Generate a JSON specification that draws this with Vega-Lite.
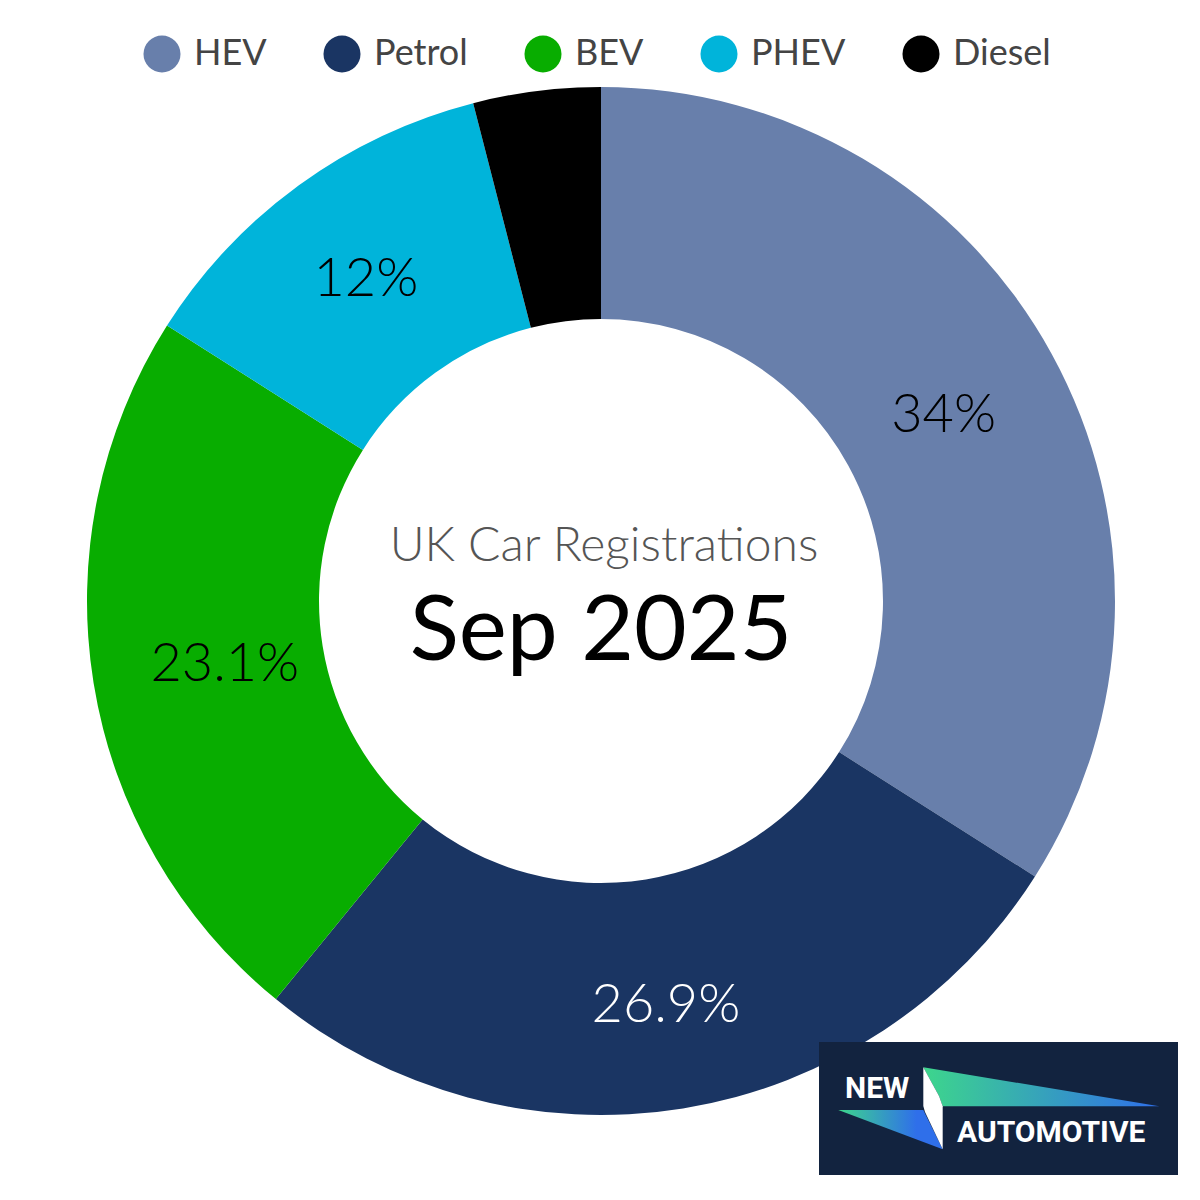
{
"$schema":"https://vega.github.io/schema/vega-lite/v6.json",
"width":1198,"height":1200,
"padding":{"left":2,"top":1,"right":0,"bottom":0},
"autosize":{"type":"none"},
"background":"white",
"view":{"stroke":null},
"datasets":{"shares":[
{"type":"HEV","share":34,"rank":1,"label":"34%"},
{"type":"Petrol","share":26.9,"rank":2,"label":"26.9%"},
{"type":"BEV","share":23.1,"rank":3,"label":"23.1%"},
{"type":"PHEV","share":12,"rank":4,"label":"12%"},
{"type":"Diesel","share":4,"rank":5,"label":""}
]},
"resolve":{"scale":{"color":"independent"}},
"layer":[
{"data":{"name":"shares"},
"mark":{"type":"arc","radius":514,"radius2":282},
"encoding":{
"theta":{"field":"share","type":"quantitative","stack":true,"scale":{"domain":[0,100]}},
"order":{"field":"rank","type":"quantitative"},
"color":{"field":"type","type":"nominal",
"scale":{"domain":["HEV","Petrol","BEV","PHEV","Diesel"],"range":["#687FAB","#1A3563","#08AD00","#00B4DA","#000000"]},
"legend":{"title":null,"orient":"none","legendX":141,"legendY":34,"direction":"horizontal","symbolType":"circle","symbolSize":1370,"symbolStrokeWidth":0,"labelFont":"Lato","labelFontSize":36,"labelColor":"#444444","labelOffset":13,"columnPadding":56,"labelLimit":300,"gridAlign":"none"}}
}},
{"data":{"name":"shares"},
"mark":{"type":"text","radius":{"expr":"datum.type==='HEV'?391:datum.type==='Petrol'?407:datum.type==='BEV'?381:400"},"font":"Lato","fontWeight":300,"fontSize":54,"dy":3,"align":"center","baseline":"middle"},
"encoding":{
"theta":{"field":"share","type":"quantitative","stack":true,"scale":{"domain":[0,100]}},
"order":{"field":"rank","type":"quantitative"},
"text":{"field":"label"},
"color":{"condition":{"test":"datum.type==='Petrol'","value":"#ffffff"},"value":"#000000"}
}},
{"data":{"values":[{"t":"UK Car Registrations","px":604,"py":547}]},
"mark":{"type":"text","font":"Lato","fontWeight":300,"fontSize":48,"color":"#555555","align":"center","baseline":"middle"},
"encoding":{"text":{"field":"t"},
"x":{"field":"px","type":"quantitative","axis":null,"scale":{"domain":[2,1200],"range":[0,1198],"nice":false,"zero":false}},
"y":{"field":"py","type":"quantitative","axis":null,"scale":{"domain":[1,1201],"range":[0,1200],"nice":false,"zero":false}}}},
{"data":{"values":[{"t":"Sep 2025","px":601,"py":633}]},
"mark":{"type":"text","font":"Lato","fontWeight":400,"fontSize":91,"color":"#000000","align":"center","baseline":"middle"},
"encoding":{"text":{"field":"t"},
"x":{"field":"px","type":"quantitative","axis":null,"scale":{"domain":[2,1200],"range":[0,1198],"nice":false,"zero":false}},
"y":{"field":"py","type":"quantitative","axis":null,"scale":{"domain":[1,1201],"range":[0,1200],"nice":false,"zero":false}}}},
{"data":{"values":[{"a":819,"a2":1178,"b":1042,"b2":1175}]},
"mark":{"type":"rect","color":"#12233F"},
"encoding":{
"x":{"field":"a","type":"quantitative","axis":null,"scale":{"domain":[2,1200],"range":[0,1198],"nice":false,"zero":false}},"x2":{"field":"a2"},
"y":{"field":"b","type":"quantitative","axis":null,"scale":{"domain":[1,1201],"range":[0,1200],"nice":false,"zero":false}},"y2":{"field":"b2"}}},
{"data":{"values":[{"px":1000,"py":1100}]},
"mark":{"type":"point","filled":true,"size":160000,"opacity":1,
"shape":"M-0.3835 -0.1635 L0.7965 0.0315 L-0.2865 0.0315 L-0.305 -0.02 Z",
"fill":{"gradient":"linear","x1":0,"x2":1,"y1":0,"y2":0,"stops":[{"offset":0,"color":"#3DD68C"},{"offset":1,"color":"#2F6FEA"}]}},
"encoding":{"x":{"field":"px","type":"quantitative","axis":null,"scale":{"domain":[2,1200],"range":[0,1198],"nice":false,"zero":false}},"y":{"field":"py","type":"quantitative","axis":null,"scale":{"domain":[1,1201],"range":[0,1200],"nice":false,"zero":false}}}},
{"data":{"values":[{"px":1000,"py":1100}]},
"mark":{"type":"point","filled":true,"size":160000,"opacity":1,
"shape":"M-0.8085 0.05 L-0.3835 0.05 L-0.2865 0.2465 Z",
"fill":{"gradient":"linear","x1":0,"x2":1,"y1":0,"y2":0,"stops":[{"offset":0,"color":"#3DD68C"},{"offset":0.75,"color":"#2F6FEA"},{"offset":1,"color":"#2F6FEA"}]}},
"encoding":{"x":{"field":"px","type":"quantitative","axis":null,"scale":{"domain":[2,1200],"range":[0,1198],"nice":false,"zero":false}},"y":{"field":"py","type":"quantitative","axis":null,"scale":{"domain":[1,1201],"range":[0,1200],"nice":false,"zero":false}}}},
{"data":{"values":[{"px":1000,"py":1100}]},
"mark":{"type":"point","filled":true,"size":160000,"opacity":1,"fill":"#ffffff",
"shape":"M-0.3835 -0.1635 L-0.305 -0.02 L-0.2865 0.0315 L-0.2865 0.2465 L-0.375 0.06 L-0.3835 0.03 Z"},
"encoding":{"x":{"field":"px","type":"quantitative","axis":null,"scale":{"domain":[2,1200],"range":[0,1198],"nice":false,"zero":false}},"y":{"field":"py","type":"quantitative","axis":null,"scale":{"domain":[1,1201],"range":[0,1200],"nice":false,"zero":false}}}},
{"data":{"values":[{"t":"NEW","px":845,"py":1098}]},
"mark":{"type":"text","font":"Roboto","fontWeight":700,"fontSize":30,"color":"#ffffff","align":"left","baseline":"alphabetic"},
"encoding":{"text":{"field":"t"},"x":{"field":"px","type":"quantitative","axis":null,"scale":{"domain":[2,1200],"range":[0,1198],"nice":false,"zero":false}},"y":{"field":"py","type":"quantitative","axis":null,"scale":{"domain":[1,1201],"range":[0,1200],"nice":false,"zero":false}}}},
{"data":{"values":[{"t":"AUTOMOTIVE","px":957,"py":1142}]},
"mark":{"type":"text","font":"Roboto","fontWeight":700,"fontSize":30,"color":"#ffffff","align":"left","baseline":"alphabetic"},
"encoding":{"text":{"field":"t"},"x":{"field":"px","type":"quantitative","axis":null,"scale":{"domain":[2,1200],"range":[0,1198],"nice":false,"zero":false}},"y":{"field":"py","type":"quantitative","axis":null,"scale":{"domain":[1,1201],"range":[0,1200],"nice":false,"zero":false}}}}
]
}
